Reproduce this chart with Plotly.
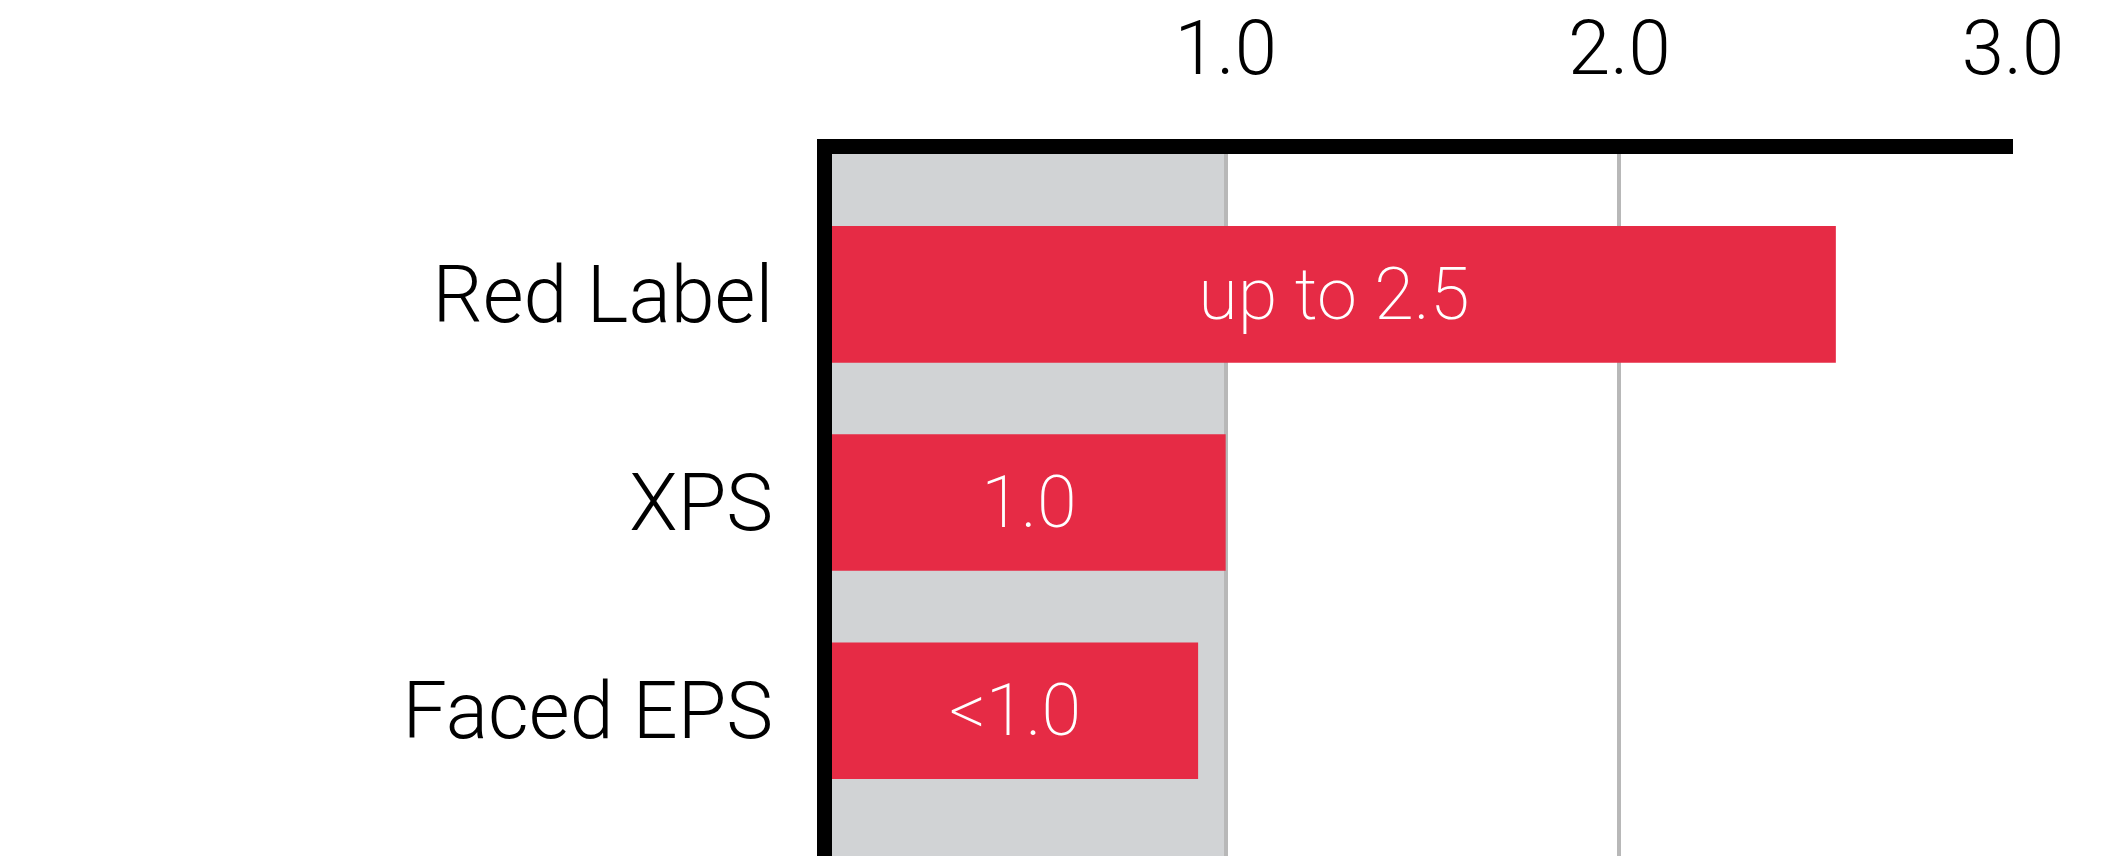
import plotly.graph_objects as go

# data
categories = ["Red Label", "XPS", "Faced EPS"]
values = [2.55, 1.0, 0.93]
bar_text = ["up to 2.5", "1.0", "&lt;1.0"]
tick_vals = [1.0, 2.0, 3.0]
tick_text = ["1.0", "2.0", "3.0"]
band_end = 1.0

RED = "#E62B45"
GRAY = "#D1D3D5"

fig = go.Figure()

fig.add_trace(go.Bar(
    x=values, y=categories,
    orientation="h",
    marker=dict(color=RED, line=dict(width=0)),
    text=bar_text,
    textposition="inside",
    insidetextanchor="middle",
    textangle=0,
    textfont=dict(family="Roboto", size=72, color="white", weight=200),
    hoverinfo="skip",
))

# gray band from 0 to 1.0
fig.add_shape(type="rect", xref="x", yref="paper",
              x0=0, x1=band_end, y0=0, y1=1,
              fillcolor=GRAY, line=dict(width=0), layer="below")

fig.update_layout(
    width=2105, height=856,
    margin=dict(l=824, r=100, t=146, b=0),
    plot_bgcolor="white", paper_bgcolor="white",
    bargap=0.344,
    showlegend=False,
    font=dict(family="Roboto", color="black"),
    xaxis=dict(
        side="top", range=[0, 3],
        tickvals=tick_vals, ticktext=tick_text,
        tickfont=dict(size=76, weight=300),
        showgrid=True, gridcolor="#B8B8B8", gridwidth=4,
        zeroline=False, automargin=False,
        showline=True, linecolor="black", linewidth=15,
        ticks="", ticklabelstandoff=35,
    ),
    yaxis=dict(
        autorange=False, range=[2.736, -0.674],
        tickfont=dict(size=79, weight=300),
        showgrid=False, zeroline=False, automargin=False,
        showline=True, linecolor="black", linewidth=15,
        ticks="", ticklabelstandoff=28,
    ),
)

fig.write_html("out.html")
